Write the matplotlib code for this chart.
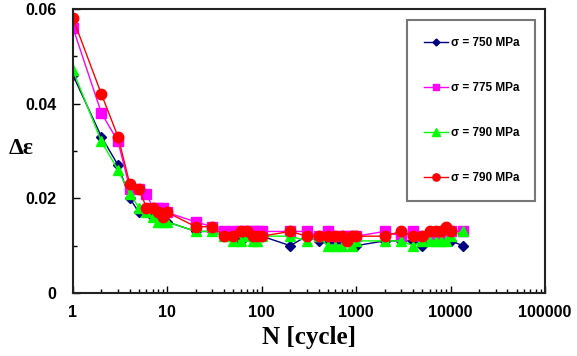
import numpy as np
import matplotlib.pyplot as plt
from matplotlib.ticker import MultipleLocator, LogLocator, NullFormatter

# Donnees
N = [1, 2, 3, 4, 5, 6, 7, 8, 9, 10,
     20, 30, 40, 50, 60, 70, 80, 90, 100,
     200, 300, 400, 500, 600, 700, 800, 900, 1000,
     2000, 3000, 4000, 5000, 6000, 7000, 8000, 9000, 10000, 13500]

de_750 = [0.046, 0.033, 0.027, 0.020, 0.017, 0.017, 0.016, 0.016, 0.016, 0.015,
          0.013, 0.013, 0.012, 0.012, 0.011, 0.012, 0.012, 0.012, 0.012,
          0.010, 0.012, 0.011, 0.011, 0.011, 0.011, 0.011, 0.011, 0.010,
          0.011, 0.011, 0.011, 0.010, 0.011, 0.011, 0.011, 0.011, 0.011, 0.010]
de_775 = [0.056, 0.038, 0.032, 0.022, 0.022, 0.021, 0.018, 0.018, 0.018, 0.017,
          0.015, 0.014, 0.013, 0.013, 0.013, 0.013, 0.013, 0.013, 0.013,
          0.013, 0.013, 0.012, 0.013, 0.012, 0.012, 0.012, 0.012, 0.012,
          0.013, 0.012, 0.013, 0.012, 0.012, 0.012, 0.012, 0.012, 0.013, 0.013]
de_790a = [0.047, 0.032, 0.026, 0.021, 0.018, 0.017, 0.016, 0.015, 0.015, 0.015,
           0.013, 0.013, 0.012, 0.011, 0.011, 0.012, 0.011, 0.011, 0.012,
           0.012, 0.011, 0.012, 0.010, 0.010, 0.010, 0.011, 0.010, 0.011,
           0.011, 0.011, 0.010, 0.011, 0.011, 0.011, 0.011, 0.011, 0.012, 0.013]
de_790b = [0.058, 0.042, 0.033, 0.023, 0.022, 0.018, 0.018, 0.017, 0.016, 0.017,
           0.014, 0.014, 0.012, 0.012, 0.013, 0.013, 0.012, 0.012, 0.012,
           0.013, 0.012, 0.012, 0.012, 0.012, 0.012, 0.011, 0.012, 0.012,
           0.012, 0.013, 0.012, 0.012, 0.013, 0.013, 0.013, 0.014, 0.013, np.nan]

labels = ['σ = 750 MPa', 'σ = 775 MPa', 'σ = 790 MPa', 'σ = 790 MPa']

fig = plt.figure(figsize=(5.77, 3.56), dpi=100)
ax = fig.add_axes([0.1265, 0.177, 0.818, 0.798])

ax.plot(N, de_750, color='#000080', marker='D', markersize=5, lw=1, label=labels[0])
ax.plot(N, de_775, color='#FF00FF', marker='s', markersize=7, lw=1, label=labels[1])
ax.plot(N, de_790a, color='#00FF00', marker='^', markersize=7.5, lw=1, label=labels[2])
ax.plot(N, de_790b, color='#FF0000', marker='o', markersize=7.5, lw=1, label=labels[3])

ax.set_xscale('log')
ax.set_xlim(1, 100000)
ax.set_ylim(0, 0.06)
ax.set_xticks([1, 10, 100, 1000, 10000, 100000])
ax.set_xticklabels(['1', '10', '100', '1000', '10000', '100000'])
ax.xaxis.set_minor_locator(LogLocator(base=10, subs=np.arange(2, 10)))
ax.xaxis.set_minor_formatter(NullFormatter())
ax.set_yticks([0, 0.02, 0.04, 0.06])
ax.set_yticklabels(['0', '0.02', '0.04', '0.06'])
ax.yaxis.set_minor_locator(MultipleLocator(0.01))

ax.tick_params(which='both', direction='in', width=1)
ax.tick_params(which='major', length=5)
ax.tick_params(axis='y', which='major', pad=12)
ax.tick_params(axis='x', which='major', pad=9)
ax.tick_params(which='minor', length=3)
for lab in ax.get_xticklabels() + ax.get_yticklabels():
    lab.set_fontfamily('Liberation Sans')
    lab.set_fontweight('bold')
    lab.set_fontsize(11.5)

for s in ax.spines.values():
    s.set_linewidth(1.5)
    s.set_color('#222222')

ax.set_xlabel('N [cycle]', family='Liberation Serif', fontweight='bold', fontsize=18, labelpad=4)
ax.set_ylabel('Δε', family='Liberation Serif', fontweight='bold', fontsize=17, rotation=0)
ax.yaxis.set_label_coords(-0.11, 0.47)

leg = ax.legend(loc='upper left', bbox_to_anchor=(0.708, 0.331, 0.271, 0.630), mode='expand',
                prop={'family': 'Liberation Sans', 'weight': 'bold', 'size': 8.5},
                labelspacing=2.8, handlelength=2.0, handletextpad=0.3, markerscale=0.7,
                fancybox=False, borderaxespad=0, borderpad=1.45)
leg.get_frame().set_edgecolor('#555555')
leg.get_frame().set_linewidth(1.5)

fig.savefig('out.png', dpi=100)
